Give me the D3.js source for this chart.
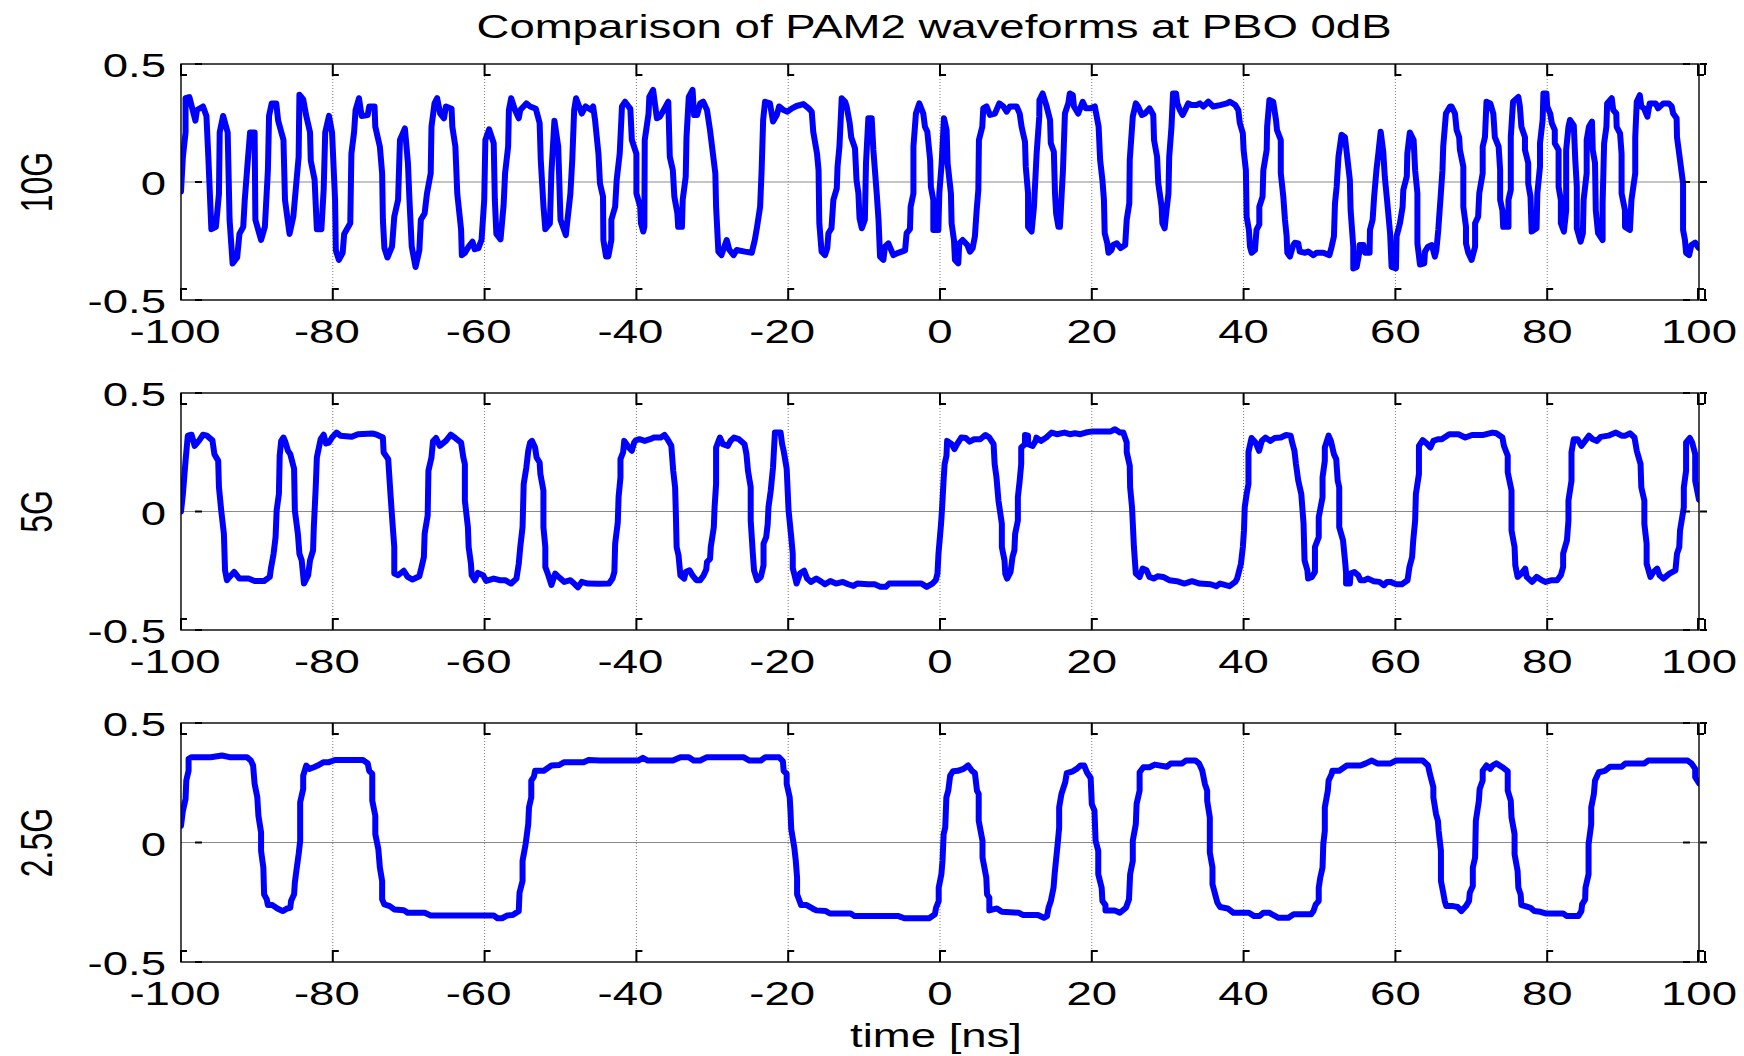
<!DOCTYPE html>
<html>
<head>
<meta charset="utf-8">
<script src="https://cdn.jsdelivr.net/npm/d3@7"></script>
<style>
    body { margin: 0; background: #fff; }
    text { font-family: Arial, "Liberation Sans", sans-serif; fill: #000; }
</style>
</head>
<body>
<div id="chart"></div>
<script>
var chartTitle = "Comparison of PAM2 waveforms at PBO 0dB";
var xLabel = "time [ns]";
var panelNames = ["10G", "5G", "2.5G"];
var xTicks = [-100, -80, -60, -40, -20, 0, 20, 40, 60, 80, 100];
var yTicks = [-0.5, 0, 0.5];
var yTickLabels = ["-0.5", "0", "0.5"];

// [time ns, amplitude]
var wave10G = [
    [-100,-0.04],[-99.75,0.107],[-99.4,0.21],[-99.4,0.355],[-98.9,0.36],[-98.1,0.26],[-97.9,0.305],[-97.1,0.32],[-96.65,0.28],[-96.4,0.107],[-96.0,-0.2],[-95.4,-0.19],[-95.0,-0.05],[-94.9,0.21],[-94.45,0.28],[-93.85,0.21],[-93.6,-0.16],[-93.2,-0.345],[-92.6,-0.32],[-92.3,-0.22],[-91.8,-0.19],[-91.6,-0.076],[-91.2,0.09],[-90.9,0.21],[-90.3,0.21],[-90.2,-0.16],[-89.45,-0.245],[-88.95,-0.19],[-88.55,0.05],[-88.4,0.28],[-88.05,0.333],[-87.45,0.333],[-87.2,0.26],[-86.5,0.178],[-86.3,-0.076],[-85.7,-0.22],[-85.2,-0.147],[-84.5,0.107],[-84.4,0.37],[-83.9,0.35],[-83.5,0.28],[-83.0,0.21],[-82.9,0.09],[-82.4,0.01],[-82.1,-0.2],[-81.5,-0.2],[-81.2,-0.03],[-81.0,0.21],[-80.5,0.28],[-80.1,0.21],[-79.7,-0.076],[-79.6,-0.29],[-79.2,-0.33],[-78.7,-0.30],[-78.5,-0.22],[-77.7,-0.175],[-77.55,0.12],[-77.2,0.21],[-77.0,0.305],[-76.55,0.355],[-76.2,0.28],[-75.4,0.284],[-75.2,0.32],[-74.5,0.32],[-74.4,0.234],[-73.8,0.15],[-73.5,0.037],[-73.4,-0.16],[-73.2,-0.28],[-72.8,-0.32],[-72.2,-0.274],[-71.9,-0.147],[-71.4,-0.076],[-71.15,0.178],[-70.5,0.227],[-70.1,0.08],[-69.9,-0.076],[-69.6,-0.274],[-69.1,-0.36],[-68.6,-0.29],[-68.4,-0.16],[-67.9,-0.133],[-67.6,-0.05],[-67.1,0.037],[-67.0,0.234],[-66.6,0.333],[-66.25,0.355],[-65.85,0.29],[-65.35,0.27],[-65.1,0.32],[-64.35,0.31],[-64.25,0.234],[-63.85,0.15],[-63.6,-0.05],[-63.1,-0.2],[-63.0,-0.31],[-62.6,-0.30],[-62.1,-0.274],[-61.6,-0.253],[-61.3,-0.285],[-60.8,-0.28],[-60.4,-0.245],[-60.05,-0.076],[-59.9,0.178],[-59.4,0.223],[-58.8,0.164],[-58.65,-0.076],[-58.45,-0.22],[-57.9,-0.243],[-57.5,-0.10],[-57.3,0.037],[-56.9,0.15],[-56.8,0.305],[-56.5,0.355],[-56.0,0.305],[-55.5,0.27],[-55.3,0.305],[-54.5,0.333],[-54.0,0.32],[-53.25,0.31],[-52.75,0.25],[-52.6,0.093],[-52.25,-0.10],[-52.0,-0.2],[-51.4,-0.175],[-51.2,0.037],[-50.8,0.26],[-50.3,0.15],[-50.0,-0.16],[-49.3,-0.225],[-48.7,-0.05],[-48.45,0.093],[-48.2,0.305],[-47.95,0.355],[-47.2,0.29],[-46.7,0.32],[-45.95,0.305],
    [-45.7,0.32],[-45.45,0.263],[-45.0,0.12],[-44.8,-0.006],[-44.4,-0.062],[-44.35,-0.246],[-44.0,-0.316],[-43.7,-0.316],[-43.3,-0.246],[-43.3,-0.16],[-42.8,-0.105],[-42.6,0.008],[-42.2,0.12],[-41.9,0.32],[-41.5,0.34],[-40.8,0.31],[-40.6,0.178],[-40.0,0.12],[-40.0,-0.048],[-39.5,-0.105],[-39.4,-0.175],[-39.1,-0.21],[-38.95,-0.19],[-38.9,0.178],[-38.4,0.29],[-38.3,0.36],[-37.8,0.39],[-37.3,0.27],[-36.9,0.277],[-36.4,0.305],[-35.8,0.34],[-35.6,0.107],[-35.2,0.05],[-35.0,-0.062],[-34.6,-0.133],[-34.5,-0.19],[-34.0,-0.19],[-33.9,-0.076],[-33.5,0.023],[-33.4,0.19],[-33.1,0.36],[-32.6,0.39],[-32.4,0.284],[-32.0,0.284],[-31.6,0.333],[-31.2,0.34],[-30.7,0.305],[-30.3,0.22],[-29.6,0.037],[-29.5,-0.105],[-29.2,-0.295],[-28.8,-0.31],[-28.1,-0.246],[-27.75,-0.288],[-27.2,-0.31],[-26.8,-0.288],[-25.7,-0.295],[-24.8,-0.30],[-24.4,-0.246],[-24.1,-0.19],[-23.7,-0.105],[-23.5,0.05],[-23.3,0.263],[-23.05,0.34],[-22.4,0.333],[-22.0,0.256],[-21.5,0.284],[-21.2,0.32],[-20.6,0.305],[-20.1,0.298],[-19.5,0.312],[-18.9,0.322],[-18.0,0.33],[-17.3,0.312],[-16.9,0.298],[-16.7,0.213],[-16.2,0.12],[-16.0,0.05],[-15.9,-0.175],[-15.6,-0.295],[-15.15,-0.31],[-14.85,-0.28],[-14.7,-0.217],[-14.3,-0.196],[-14.05,-0.076],[-13.6,-0.027],[-13.5,0.065],[-13.25,0.15],[-12.95,0.355],[-12.5,0.34],[-12.3,0.32],[-11.9,0.25],[-11.7,0.19],[-11.2,0.143],[-11.0,0.008],[-10.75,-0.048],[-10.6,-0.154],[-10.3,-0.196],[-9.9,-0.16],[-9.75,0.08],[-9.44,0.27],[-9.0,0.27],[-8.78,0.136],[-8.34,-0.048],[-8.1,-0.16],[-7.9,-0.316],[-7.46,-0.33],
    [-7.25,-0.274],[-6.8,-0.26],[-6.15,-0.31],[-5.5,-0.30],[-4.6,-0.29],[-4.4,-0.217],[-3.96,-0.20],[-3.87,-0.105],[-3.5,-0.048],[-3.5,0.15],[-3.17,0.29],[-2.73,0.333],[-2.2,0.29],[-1.98,0.234],[-1.67,0.213],[-1.3,0.093],[-1.2,-0.02],[-0.88,-0.076],[-0.88,-0.203],[-0.22,-0.203],[-0.09,-0.048],[0.22,0.08],[0.52,0.27],[0.87,0.22],[1.0,0.08],[1.44,-0.048],[1.53,-0.175],[1.84,-0.246],[1.97,-0.33],[2.41,-0.345],[2.54,-0.26],[2.98,-0.246],[3.6,-0.267],[3.95,-0.295],[4.3,-0.28],[4.6,-0.23],[4.83,-0.12],[5.05,-0.034],[5.13,0.178],[5.57,0.234],[5.7,0.312],[6.14,0.32],[6.58,0.284],[7.24,0.29],[7.81,0.333],[8.34,0.32],[8.78,0.298],[9.22,0.32],[10.1,0.32],[10.5,0.29],[10.75,0.234],[11.2,0.17],[11.3,0.065],[11.6,-0.048],[11.6,-0.19],[12.07,-0.21],[12.38,-0.105],[12.73,0.12],[13.08,0.277],[13.1,0.347],[13.52,0.375],[14.05,0.32],[14.5,0.263],[14.6,0.164],[15.0,0.128],[15.15,-0.048],[15.3,-0.133],[15.6,-0.19],[15.8,-0.19],[16.2,0.05],[16.46,0.29],[16.9,0.333],[17.1,0.375],[17.5,0.368],[17.65,0.32],[18.2,0.29],[18.8,0.34],[19.2,0.312],[19.8,0.312],[20.4,0.32],[20.9,0.234],[21.1,0.093],[21.4,0.008],[21.6,-0.076],[21.7,-0.217],[22.04,-0.26],[22.2,-0.30],[22.6,-0.288],[22.8,-0.267],[23.3,-0.26],[23.8,-0.28],[24.4,-0.267],[24.6,-0.16],[24.94,-0.09],[25.0,0.093],[25.4,0.277],[25.8,0.333],[26.1,0.32],[26.6,0.284],[27.0,0.29],[27.6,0.312],[28.1,0.284],[28.2,0.178],[28.6,0.107],[28.76,-0.006],[29.2,-0.105],[29.3,-0.175],[29.6,-0.196],[29.8,-0.133],[30.1,-0.048],[30.2,0.107],
    [30.5,0.234],[30.7,0.375],[31.1,0.375],[31.27,0.333],[31.6,0.305],[31.97,0.284],[32.3,0.305],[32.7,0.333],[33.15,0.326],[33.8,0.326],[34.25,0.333],[34.7,0.32],[35.35,0.34],[36.0,0.32],[36.9,0.326],[37.8,0.333],[38.2,0.34],[38.9,0.326],[39.3,0.305],[39.5,0.25],[39.9,0.206],[40.0,0.136],[40.3,0.05],[40.4,-0.147],[40.7,-0.203],[40.84,-0.274],[41.06,-0.30],[41.5,-0.288],[41.7,-0.203],[42.07,-0.18],[42.07,-0.105],[42.5,-0.062],[42.6,0.05],[43.04,0.136],[43.1,0.234],[43.4,0.347],[43.9,0.34],[44.27,0.263],[44.4,0.22],[44.9,0.178],[44.9,0.037],[45.23,-0.062],[45.45,-0.16],[45.67,-0.23],[45.76,-0.30],[46.1,-0.316],[46.55,-0.267],[46.77,-0.257],[47.2,-0.26],[47.4,-0.295],[48.1,-0.30],[48.5,-0.295],[49.2,-0.31],[49.6,-0.30],[50.5,-0.30],[51.3,-0.31],[51.6,-0.274],[51.9,-0.23],[52.04,-0.09],[52.26,-0.02],[52.5,0.107],[52.9,0.2],[53.35,0.19],[53.6,0.12],[54.0,0.008],[54.1,-0.12],[54.45,-0.274],[54.45,-0.366],[54.9,-0.36],[55.24,-0.30],[55.3,-0.267],[55.8,-0.267],[56.0,-0.30],[56.6,-0.30],[56.65,-0.203],[57.0,-0.16],[57.2,-0.062],[57.5,0.05],[57.75,0.12],[58.06,0.213],[58.4,0.128],[58.6,0.023],[58.9,-0.076],[59.3,-0.217],[59.5,-0.36],[60.07,-0.366],[60.16,-0.23],[60.6,-0.175],[60.95,-0.105],[61.04,-0.034],[61.5,0.023],[61.57,0.12],[61.9,0.21],[62.4,0.178],[62.6,0.05],[62.9,-0.048],[62.9,-0.26],[63.24,-0.35],[63.8,-0.345],[63.9,-0.295],[64.3,-0.274],[64.8,-0.267],[65.2,-0.316],[65.4,-0.288],[65.65,-0.203],[65.96,-0.062],[66.2,0.05],
    [66.3,0.15],[66.66,0.29],[67.2,0.32],[67.4,0.32],[67.85,0.29],[68.07,0.22],[68.4,0.19],[68.5,0.136],[68.95,0.065],[68.95,-0.105],[69.3,-0.19],[69.3,-0.26],[69.6,-0.30],[70.04,-0.33],[70.5,-0.274],[70.5,-0.175],[70.9,-0.147],[71.05,-0.048],[71.5,0.037],[71.5,0.15],[71.8,0.19],[72.0,0.34],[72.5,0.333],[72.9,0.29],[73.1,0.19],[73.6,0.15],[73.8,0.05],[73.8,-0.076],[74.1,-0.12],[74.2,-0.19],[74.9,-0.19],[74.9,-0.076],[75.2,-0.034],[75.2,0.19],[75.5,0.34],[76.2,0.36],[76.4,0.32],[76.6,0.234],[77.07,0.19],[77.07,0.136],[77.5,0.08],[77.5,-0.006],[77.8,-0.062],[77.95,-0.21],[78.6,-0.196],[78.7,-0.048],[79.05,0.065],[79.05,0.164],[79.4,0.263],[79.5,0.375],[79.9,0.375],[80.0,0.32],[80.4,0.29],[80.6,0.25],[81.0,0.22],[81.0,0.164],[81.5,0.136],[81.5,-0.02],[81.8,-0.076],[81.8,-0.175],[82.2,-0.21],[82.5,-0.12],[82.5,0.136],[82.8,0.234],[83.0,0.263],[83.5,0.24],[83.7,0.093],[83.9,-0.02],[83.9,-0.196],[84.4,-0.253],[84.7,-0.217],[84.8,-0.076],[85.2,0.037],[85.2,0.178],[85.5,0.234],[85.9,0.256],[86.0,0.136],[86.3,0.08],[86.4,-0.12],[86.7,-0.217],[87.3,-0.246],[87.3,-0.09],[87.5,0.164],[87.8,0.234],[87.9,0.333],[88.5,0.355],[88.7,0.305],[89.1,0.29],[89.15,0.234],[89.6,0.206],[89.8,0.12],[89.8,-0.048],[90.25,-0.12],[90.25,-0.19],[90.9,-0.203],[91.1,-0.076],[91.6,0.037],[91.6,0.19],[91.8,0.34],[92.2,0.368],[92.4,0.32],[92.75,0.312],[93.2,0.277],[93.5,0.333],[94.3,0.333],[94.6,0.312],[95.3,0.333],[96.0,0.333],[96.4,0.32],[96.6,0.29],[97.05,0.27],[97.1,0.19],[97.5,0.093],[97.9,-0.006],[97.9,-0.203],[98.15,-0.246],[98.3,-0.30],[98.7,-0.31],[99.0,-0.267],[99.5,-0.257],[99.9,-0.277],[100,-0.28]
];

var wave5G = [
    [-100,0],[-99.75,0.074],[-99.4,0.214],[-99.1,0.32],[-98.6,0.324],[-98.2,0.277],[-97.6,0.3],[-97.1,0.324],[-96.6,0.32],[-95.86,0.3],[-95.6,0.242],[-95.1,0.214],[-95.0,0.102],[-94.7,0.004],[-94.35,-0.094],[-94.2,-0.248],[-93.95,-0.29],[-93.6,-0.276],[-93.0,-0.255],[-92.3,-0.283],[-91.1,-0.283],[-90.3,-0.293],[-89.05,-0.293],[-88.3,-0.276],[-88.15,-0.24],[-87.8,-0.178],[-87.54,-0.108],[-87.4,0.004],[-87.1,0.074],[-87.0,0.235],[-86.8,0.298],[-86.5,0.312],[-86.3,0.298],[-85.9,0.256],[-85.6,0.242],[-85.1,0.18],[-85.0,0.004],[-84.6,-0.094],[-84.4,-0.178],[-84.1,-0.206],[-83.8,-0.304],[-83.25,-0.27],[-83.0,-0.206],[-82.6,-0.164],[-82.5,-0.066],[-82.25,0.102],[-82.1,0.228],[-81.6,0.305],[-81.2,0.324],[-80.9,0.287],[-80.5,0.291],[-80.1,0.312],[-79.5,0.333],[-79.0,0.32],[-77.5,0.315],[-76.7,0.326],[-74.7,0.329],[-74.2,0.324],[-73.4,0.312],[-73.3,0.249],[-72.7,0.221],[-72.4,0.074],[-72.16,-0.038],[-71.9,-0.15],[-71.9,-0.262],[-71.4,-0.269],[-70.65,-0.25],[-70.14,-0.276],[-69.5,-0.287],[-68.6,-0.273],[-68.3,-0.234],[-68.0,-0.192],[-67.9,-0.094],[-67.5,-0.017],[-67.4,0.172],[-67.0,0.228],[-66.8,0.296],[-66.4,0.31],[-65.9,0.277],[-65.1,0.298],[-64.45,0.324],[-63.85,0.31],[-63.1,0.291],[-62.8,0.228],[-62.6,0.2],[-62.6,0.046],[-62.2,-0.066],[-62.1,-0.15],[-61.8,-0.22],[-61.7,-0.269],[-61.3,-0.29],[-60.9,-0.259],[-60.2,-0.269],[-59.8,-0.293],[-58.8,-0.283],[-58.0,-0.29],[-57.3,-0.29],[-56.5,-0.304],[-55.8,-0.283],[-55.5,-0.22],[-55.3,-0.15],[-55.0,-0.066],[-54.85,0.116],[-54.5,0.186],[-54.25,0.256],[-54.0,0.291],[-53.75,0.298],[-53.35,0.27],[-53.15,0.228],[-52.75,0.207],[-52.65,0.158],[-52.25,0.088],[-52.25,-0.066],[-52.0,-0.15],[-52.0,-0.234],[-51.6,-0.269],[-51.2,-0.31],[-50.7,-0.262],[-50.0,-0.283],[-49.5,-0.297],[-48.7,-0.29],[-48.2,-0.304],[-47.7,-0.32],[-47.2,-0.297],[-46.4,-0.304],[-45.0,-0.305],
    [-43.6,-0.304],[-43.15,-0.283],[-42.9,-0.255],[-42.8,-0.136],[-42.45,-0.045],[-42.35,0.06],[-42.1,0.144],[-42.1,0.221],[-41.75,0.25],[-41.6,0.298],[-41.0,0.27],[-40.6,0.256],[-40.3,0.291],[-40.1,0.3],[-39.6,0.305],[-38.9,0.298],[-38.2,0.305],[-37.7,0.312],[-36.8,0.312],[-36.3,0.323],[-35.9,0.305],[-35.4,0.277],[-35.15,0.172],[-34.9,0.102],[-34.8,-0.01],[-34.7,-0.15],[-34.45,-0.185],[-34.2,-0.27],[-33.7,-0.283],[-33.5,-0.255],[-33.0,-0.248],[-32.6,-0.27],[-32.1,-0.29],[-31.6,-0.29],[-31.15,-0.27],[-30.8,-0.245],[-30.7,-0.213],[-30.3,-0.2],[-30.2,-0.15],[-29.8,-0.066],[-29.7,0.018],[-29.5,0.116],[-29.5,0.27],[-29.0,0.312],[-28.6,0.284],[-27.95,0.277],[-27.6,0.298],[-27.15,0.312],[-26.5,0.305],[-26.0,0.291],[-25.75,0.284],[-25.5,0.242],[-25.3,0.172],[-24.94,0.102],[-24.94,-0.038],[-24.66,-0.178],[-24.5,-0.248],[-24.1,-0.29],[-23.6,-0.276],[-23.25,-0.227],[-23.25,-0.136],[-22.9,-0.108],[-22.7,-0.052],[-22.6,0.018],[-22.3,0.088],[-22.0,0.186],[-21.75,0.333],[-21.0,0.333],[-20.8,0.284],[-20.6,0.256],[-20.2,0.18],[-19.95,0.004],[-19.6,-0.108],[-19.4,-0.178],[-19.4,-0.24],[-19.15,-0.27],[-18.9,-0.304],[-18.45,-0.262],[-17.9,-0.25],[-17.5,-0.283],[-17.0,-0.297],[-16.3,-0.283],[-15.6,-0.297],[-15.15,-0.307],[-14.45,-0.293],[-13.7,-0.304],[-12.8,-0.297],[-12.1,-0.307],[-11.4,-0.314],[-10.9,-0.304],[-9.5,-0.307],[-8.6,-0.307],[-7.85,-0.318],[-7.15,-0.318],[-6.7,-0.304],[-4.8,-0.304],[-2.45,-0.304],[-1.75,-0.318],[-1.0,-0.304],[-0.56,-0.29],[-0.33,-0.262],[-0.2,-0.178],[0.14,-0.052],[0.28,0.018],[0.47,0.13],[0.61,0.2],[0.85,0.235],[0.94,0.298],[1.55,0.284],[1.9,0.263],[2.25,0.284],[2.8,0.312],[3.4,0.31],[3.9,0.295],[4.5,0.305],[5.3,0.305],[6.0,0.323],[6.5,0.312],[7.06,0.284],[7.2,0.2],[7.44,0.144],[7.7,0.046],[8.15,-0.052],[8.15,-0.15],[8.5,-0.206],[8.6,-0.262],[8.85,-0.283],[9.3,-0.255],[9.55,-0.192],[9.8,-0.164],[9.9,-0.094],[10.26,-0.038],[10.26,0.06],[10.5,0.13],[10.7,0.2],[10.7,0.27],[11.2,0.284],[11.2,0.323],[11.6,0.32],[11.6,0.284],[12.2,0.277],[12.6,0.298],[12.7,0.312],[13.3,0.298],[14.0,0.312],[14.7,0.333],[15.4,0.326],[16.4,0.333],[17.1,0.326],[17.8,0.33],[18.5,0.326],[19.2,0.333],[20.1,0.338],[22.5,0.338],[23.05,0.347],[23.7,0.333],[24.15,0.333],[24.6,0.291],[24.6,0.25],[25.0,0.193],[25.05,0.102],[25.3,0.018],[25.55,-0.15],[25.8,-0.262],[26.3,-0.276],[26.7,-0.241],[27.2,-0.248],[27.6,-0.276],[28.15,-0.283],
    [28.67,-0.273],[29.4,-0.276],[30.2,-0.29],[31.2,-0.294],[32.2,-0.304],[33.2,-0.294],[34.2,-0.304],[35.65,-0.307],[36.4,-0.315],[36.9,-0.304],[37.65,-0.311],[38.15,-0.315],[38.9,-0.297],[39.15,-0.283],[39.65,-0.22],[39.9,-0.15],[40.05,-0.08],[40.15,0.018],[40.4,0.074],[40.64,0.116],[40.64,0.25],[41.04,0.31],[41.6,0.29],[42.04,0.256],[42.4,0.298],[42.9,0.312],[43.5,0.298],[44.1,0.31],[44.9,0.312],[45.6,0.323],[46.2,0.32],[46.4,0.291],[46.7,0.256],[46.9,0.2],[47.2,0.13],[47.6,0.074],[47.9,-0.052],[48.03,-0.206],[48.4,-0.248],[48.5,-0.283],[49.0,-0.276],[49.4,-0.255],[49.4,-0.15],[49.9,-0.108],[49.9,-0.024],[50.4,0.06],[50.4,0.144],[50.7,0.214],[50.7,0.27],[51.2,0.32],[51.5,0.298],[51.9,0.242],[52.2,0.221],[52.4,0.13],[52.6,0.102],[52.6,-0.066],[53.1,-0.122],[53.4,-0.22],[53.5,-0.262],[53.5,-0.304],[54.0,-0.304],[54.1,-0.262],[54.6,-0.255],[55.1,-0.269],[55.4,-0.29],[55.9,-0.29],[56.4,-0.283],[57.1,-0.294],[57.9,-0.297],[58.5,-0.311],[58.9,-0.297],[59.35,-0.297],[60.1,-0.307],[60.85,-0.307],[61.6,-0.29],[61.85,-0.234],[62.2,-0.192],[62.35,-0.122],[62.6,-0.038],[62.7,0.074],[63.1,0.158],[63.1,0.277],[63.6,0.301],[64.0,0.291],[64.6,0.27],[65.0,0.298],[65.6,0.305],[66.1,0.305],[67.1,0.326],[68.3,0.326],[69.2,0.312],[70.1,0.323],[71.6,0.323],[72.8,0.333],[73.3,0.33],[74.1,0.312],[74.3,0.277],[74.8,0.235],[74.8,0.165],[75.3,0.088],[75.3,-0.08],[75.7,-0.15],[75.8,-0.227],[76.1,-0.276],[76.6,-0.262],[77.1,-0.241],[77.3,-0.276],[78.0,-0.297],[78.6,-0.276],[79.3,-0.29],[79.8,-0.297],[80.6,-0.29],[81.3,-0.29],[81.8,-0.269],[82.1,-0.234],[82.1,-0.178],[82.6,-0.122],[82.8,-0.038],[82.8,0.046],[83.2,0.13],[83.2,0.25],[83.5,0.305],[84.0,0.305],[84.5,0.277],[85.0,0.298],[85.5,0.32],[86.0,0.305],[86.55,0.298],[87.05,0.315],[88.05,0.32],[89.05,0.333],[89.8,0.32],[90.3,0.32],[90.9,0.33],[91.5,0.312],[91.8,0.256],[92.3,0.2],[92.4,0.102],[92.8,0.046],[92.8,-0.052],[93.1,-0.136],[93.1,-0.22],[93.6,-0.276],[94.0,-0.255],[94.5,-0.241],[94.8,-0.269],[95.3,-0.283],[96.1,-0.262],[96.9,-0.248],[97.1,-0.178],[97.4,-0.15],[97.5,-0.08],[98.0,0.018],[98.0,0.102],[98.3,0.172],[98.3,0.291],[98.8,0.31],[99.1,0.291],[99.5,0.242],[99.5,0.13],[100,0.05]
];

var wave25G = [
    [-100,0.07],[-99.75,0.133],[-99.4,0.182],[-99.3,0.26],[-99.0,0.3],[-99.0,0.35],[-98.6,0.357],[-96.1,0.357],[-94.6,0.364],[-93.6,0.357],[-91.3,0.357],[-90.8,0.343],[-90.5,0.322],[-90.3,0.245],[-89.95,0.19],[-89.8,0.112],[-89.45,0.042],[-89.45,-0.035],[-89.15,-0.105],[-89.05,-0.217],[-88.7,-0.238],[-88.55,-0.262],[-87.95,-0.262],[-87.3,-0.276],[-86.6,-0.287],[-86.0,-0.276],[-85.6,-0.273],[-85.5,-0.245],[-85.1,-0.217],[-85.0,-0.168],[-84.8,-0.119],[-84.5,-0.049],[-84.3,0.007],[-84.3,0.168],[-83.9,0.224],[-83.9,0.28],[-83.5,0.322],[-83.1,0.308],[-82.5,0.315],[-82.0,0.322],[-81.2,0.336],[-80.5,0.336],[-79.7,0.345],[-76.0,0.345],[-75.4,0.331],[-75.2,0.3],[-74.8,0.287],[-74.8,0.175],[-74.4,0.112],[-74.4,0.035],[-74.0,-0.028],[-73.8,-0.105],[-73.5,-0.161],[-73.5,-0.238],[-73.2,-0.259],[-72.5,-0.266],[-71.9,-0.28],[-70.65,-0.283],[-70.14,-0.294],[-67.9,-0.294],[-67.1,-0.305],[-58.8,-0.305],[-58.3,-0.317],[-57.7,-0.317],[-57.0,-0.305],[-56.3,-0.303],[-55.5,-0.287],[-55.4,-0.21],[-55.0,-0.161],[-55.0,-0.077],[-54.6,-0.007],[-54.25,0.077],[-54.15,0.147],[-53.85,0.189],[-53.85,0.259],[-53.5,0.276],[-53.35,0.3],[-52.2,0.3],[-51.2,0.322],[-50.2,0.324],[-49.5,0.336],[-46.95,0.336],[-46.3,0.345],[-44.8,0.343],
    [-39.76,0.343],[-39.15,0.354],[-38.5,0.343],[-35.2,0.343],[-34.2,0.357],[-33.1,0.357],[-32.45,0.343],[-31.6,0.343],[-30.7,0.357],[-25.9,0.357],[-25.1,0.343],[-23.6,0.343],[-23.0,0.357],[-21.2,0.357],[-20.7,0.34],[-20.6,0.3],[-20.2,0.287],[-20.2,0.245],[-19.8,0.189],[-19.7,0.133],[-19.6,0.056],[-19.2,-0.021],[-19.0,-0.077],[-18.83,-0.147],[-18.83,-0.217],[-18.5,-0.245],[-18.3,-0.262],[-17.57,-0.262],[-16.8,-0.276],[-16.3,-0.284],[-15.05,-0.287],[-14.5,-0.297],[-11.77,-0.297],[-11.26,-0.308],[-5.47,-0.308],[-4.7,-0.317],[-1.43,-0.317],[-0.67,-0.3],[-0.52,-0.273],[-0.17,-0.245],[-0.17,-0.189],[0.18,-0.133],[0.33,-0.077],[0.48,0.035],[0.69,0.063],[0.84,0.189],[1.09,0.217],[1.34,0.28],[1.7,0.298],[2.35,0.3],[3.1,0.308],[3.7,0.322],[4.2,0.3],[4.6,0.29],[4.87,0.217],[5.1,0.203],[5.1,0.091],[5.6,0.007],[5.6,-0.063],[6.1,-0.147],[6.2,-0.217],[6.5,-0.231],[6.5,-0.284],[7.5,-0.276],[8.15,-0.29],[10.4,-0.294],[10.9,-0.303],[12.9,-0.303],[13.7,-0.315],[14.1,-0.308],[14.3,-0.273],[14.6,-0.245],[14.96,-0.189],[15.1,-0.133],[15.5,-0.007],[15.7,0.063],[15.7,0.147],[16.0,0.203],[16.5,0.252],[16.7,0.29],[17.5,0.298],[18.0,0.308],[18.5,0.322],[19.0,0.322],[19.35,0.294],[19.85,0.27],[20.0,0.161],[20.35,0.133],[20.5,0.007],[20.85,-0.035],[20.85,-0.133],[21.3,-0.189],[21.4,-0.245],[21.8,-0.262],[21.8,-0.284],[23.0,-0.284],[23.7,-0.294],[24.5,-0.273],[24.9,-0.238],[25.05,-0.133],[25.4,-0.077],[25.4,0.007],[25.8,0.077],[25.9,0.161],[26.3,0.217],[26.3,0.294],[26.8,0.315],[27.6,0.315],[28.3,0.326],
    [29.9,0.317],[30.4,0.331],[31.9,0.331],[32.4,0.343],[33.66,0.343],[34.16,0.329],[34.56,0.3],[34.9,0.245],[35.2,0.217],[35.2,0.175],[35.55,0.105],[35.55,-0.042],[35.9,-0.105],[35.9,-0.175],[36.25,-0.217],[36.55,-0.252],[36.9,-0.27],[37.9,-0.276],[38.65,-0.294],[40.7,-0.294],[41.4,-0.308],[42.1,-0.308],[42.6,-0.294],[43.4,-0.294],[43.7,-0.3],[44.6,-0.315],[45.9,-0.315],[46.6,-0.3],[48.9,-0.3],[49.2,-0.287],[49.5,-0.259],[49.9,-0.245],[49.9,-0.189],[50.1,-0.147],[50.4,-0.105],[50.5,-0.007],[50.7,0.049],[50.7,0.147],[51.1,0.217],[51.2,0.259],[51.6,0.287],[51.7,0.3],[52.6,0.3],[53.6,0.322],[55.4,0.322],[56.1,0.331],[56.9,0.343],[57.6,0.331],[59.35,0.331],[60.1,0.343],[63.6,0.343],[64.3,0.322],[64.6,0.28],[65.0,0.231],[65.0,0.189],[65.35,0.119],[65.6,0.091],[65.7,0.049],[66.0,-0.035],[66.0,-0.161],[66.3,-0.21],[66.5,-0.245],[66.7,-0.266],[67.6,-0.266],[68.2,-0.27],[68.7,-0.287],[69.3,-0.266],[69.7,-0.245],[69.8,-0.21],[70.2,-0.182],[70.2,-0.105],[70.5,-0.063],[70.6,0.091],[71.0,0.175],[71.1,0.224],[71.5,0.259],[71.5,0.3],[72.0,0.322],[72.5,0.308],[72.8,0.322],[73.3,0.331],[74.1,0.315],[74.8,0.298],[74.8,0.217],[75.2,0.175],[75.3,0.105],[75.7,0.035],[75.7,-0.049],[76.1,-0.119],[76.2,-0.189],[76.5,-0.217],[76.6,-0.262],[77.1,-0.266],[77.8,-0.273],[78.3,-0.287],[79.1,-0.29],[79.8,-0.297],[82.1,-0.297],[82.6,-0.308],[84.1,-0.308],[84.5,-0.287],[84.6,-0.259],[85.0,-0.238],[85.05,-0.189],[85.45,-0.133],[85.45,-0.007],[85.8,0.077],[85.8,0.147],[86.15,0.203],[86.3,0.259],[86.8,0.294],[87.6,0.3],[88.3,0.317],[89.8,0.317],[90.3,0.331],[92.8,0.331],[93.3,0.343],[98.5,0.343],[99.0,0.331],[99.5,0.308],[99.5,0.273],[100,0.248]
];

var panelWaves = [wave10G, wave5G, wave25G];

function renderWaveforms(render_id) {

    var width = 1744,
        height = 1056

    var left = 181,
        right = 1699,
        tops = [64, 393, 723],
        bottoms = [300, 630, 962],
        stretch = 1.38   // the picture's text is drawn wide

    var svg = d3.select("#" + render_id)
        .append("svg")
        .attr("width", width)
        .attr("height", height)
        .style("background", "#fff");

    var x_scale = d3.scaleLinear().domain([-100, 100]).range([left, right]);

    function wideText(g, x, y, str, anchor) {
        return g.append("text")
            .attr("transform", "translate(" + x + "," + y + ") scale(" + stretch + ",1)")
            .attr("text-anchor", anchor)
            .style("font-size", "33px")
            .text(str);
    }

    panelWaves.forEach(function (wave, i) {

        var top = tops[i], bottom = bottoms[i];
        var y_scale = d3.scaleLinear().domain([-0.5, 0.5]).range([bottom, top]);
        var g = svg.append("g");

        g.append("clipPath").attr("id", "clip" + i)
            .append("rect")
            .attr("x", left).attr("y", top)
            .attr("width", right - left).attr("height", bottom - top);

        // dotted vertical grid
        g.selectAll(".vgrid")
            .data(xTicks.slice(1, -1))
            .enter().append("line")
            .attr("x1", function (d) { return x_scale(d); })
            .attr("x2", function (d) { return x_scale(d); })
            .attr("y1", top).attr("y2", bottom)
            .attr("stroke", "#7a7a7a")
            .attr("stroke-width", 1)
            .attr("stroke-dasharray", "1,2");

        // horizontal grid at 0
        g.append("line")
            .attr("x1", left).attr("x2", right)
            .attr("y1", y_scale(0)).attr("y2", y_scale(0))
            .attr("stroke", "#8a8a8a")
            .attr("stroke-width", 1);

        var line = d3.line()
            .x(function (d) { return x_scale(d[0]); })
            .y(function (d) { return y_scale(d[1]); });

        g.append("path")
            .datum(wave)
            .attr("clip-path", "url(#clip" + i + ")")
            .attr("d", line)
            .attr("fill", "none")
            .attr("stroke", "#0000ff")
            .attr("stroke-width", 6)
            .attr("stroke-linejoin", "round")
            .attr("stroke-linecap", "round");

        // box
        g.append("rect")
            .attr("x", left).attr("y", top)
            .attr("width", right - left).attr("height", bottom - top)
            .attr("fill", "none")
            .attr("stroke", "#000")
            .attr("stroke-width", 1.4);

        // x ticks, top and bottom
        var tk = g.append("g").attr("stroke", "#000").attr("stroke-width", 2).attr("fill", "none");
        xTicks.forEach(function (t) {
            var xp = x_scale(t);
            if (t == 100) xp = right - 1;
            tk.append("path").attr("d", "M" + xp + "," + top + "V" + (top + 11) + "h6");
            tk.append("path").attr("d", "M" + xp + "," + bottom + "V" + (bottom - 11) + "h6");
        });

        // y ticks
        yTicks.forEach(function (v) {
            var yp = y_scale(v);
            tk.append("path").attr("d", "M" + (left + 14) + "," + yp + "h7");
            tk.append("path").attr("d", "M" + (right - 16) + "," + yp + "h7");
            tk.append("path").attr("d", "M" + (right + 1) + "," + yp + "h7");
        });
        tk.append("path").attr("d", "M" + (right + 6) + "," + top + "V" + (top + 11));
        tk.append("path").attr("d", "M" + (right + 6) + "," + bottom + "V" + (bottom - 11));

        // tick labels
        xTicks.forEach(function (t) {
            var shift = t < 0 ? -6 : 0;
            wideText(g, x_scale(t) + shift, bottom + 43, String(t), "middle");
        });
        yTicks.forEach(function (v, k) {
            wideText(g, 166, y_scale(v) + 13, yTickLabels[k], "end");
        });

        // panel name
        g.append("text")
            .attr("transform", "translate(52," + ((top + bottom) / 2) + ") scale(" + stretch + ",1) rotate(-90)")
            .attr("text-anchor", "middle")
            .style("font-size", "32px")
            .text(panelNames[i]);
    });

    wideText(svg, 934, 38, chartTitle, "middle");
    wideText(svg, 936, 1047, xLabel, "middle");
}

renderWaveforms("chart")
</script>
</body>
</html>
